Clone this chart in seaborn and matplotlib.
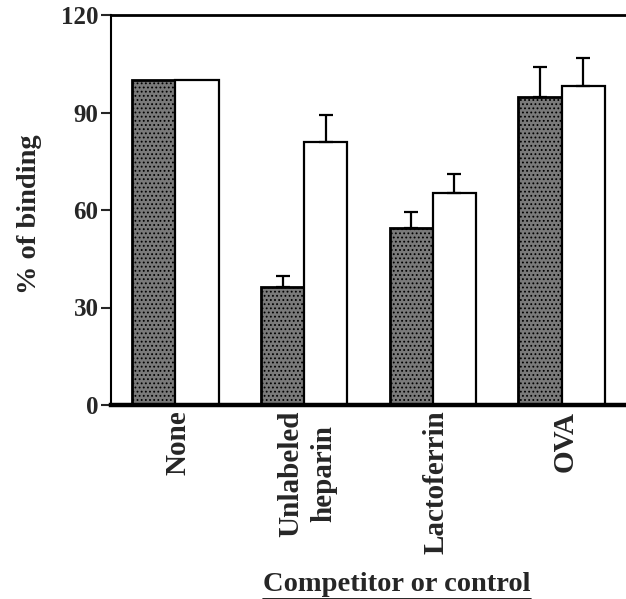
import matplotlib
matplotlib.use("Agg")
import matplotlib.pyplot as plt
import seaborn as sns
import pandas as pd
import numpy as np
from matplotlib.lines import Line2D

categories = ["None", "Unlabeled\nheparin", "Lactoferrin", "OVA"]
series_names = ["Grey", "White"]
grey_values = [100, 36.4, 54.4, 94.9]
white_values = [100, 81.0, 65.1, 98.2]
grey_errors = [0, 3.3, 5.1, 9.2]
white_errors = [0, 8.2, 6.0, 8.7]
y_ticks = [0, 30, 60, 90, 120]

sns.set_style("white")
plt.rcParams["font.family"] = ["Liberation Serif", "DejaVu Serif"]
plt.rcParams["font.weight"] = "bold"
plt.rcParams["hatch.linewidth"] = 0.8

df = pd.DataFrame({
    "category": categories * 2,
    "series": [series_names[0]] * 4 + [series_names[1]] * 4,
    "value": grey_values + white_values,
})

fig = plt.figure(figsize=(6.26, 5.99), dpi=100)
ax = fig.add_axes([111 / 626, 1 - 405 / 599, 1 - 111 / 626, (405 - 15) / 599])

sns.barplot(data=df, x="category", y="value", hue="series", order=categories,
            hue_order=series_names, palette=["#7a7a7a", "white"], width=0.67,
            errorbar=None, legend=False, ax=ax, saturation=1)

patches = list(ax.patches)
n = len(categories)
for i, p in enumerate(patches[:2 * n]):
    if i < n:
        p.set_edgecolor("black")
        p.set_linewidth(2.0)
        p.set_hatch("....")
    else:
        p.set_edgecolor("black")
        p.set_linewidth(1.6)

errs = grey_errors + white_errors
vals = grey_values + white_values
for i, p in enumerate(patches[:2 * n]):
    if errs[i] > 0:
        xc = p.get_x() + p.get_width() / 2
        ax.errorbar([xc], [vals[i]], yerr=[[0], [errs[i]]], fmt="none",
                    ecolor="black", elinewidth=1.6, capsize=5, capthick=1.6, zorder=1)

ax.set_ylim(0, 120)
ax.set_xlim(-0.5, 3.5)
ax.set_yticks(y_ticks)
ax.set_yticklabels([str(t) for t in y_ticks], fontsize=18, fontweight="bold")
ax.tick_params(axis="y", direction="out", length=7, width=1.5, left=True, pad=2)
ax.tick_params(axis="x", length=0, pad=4)
for lbl in ax.get_xticklabels():
    lbl.set_rotation(90)
    lbl.set_fontsize(21)
    lbl.set_fontweight("bold")
    lbl.set_va("top")
    lbl.set_ha("center")
    lbl.set_multialignment("center")
    lbl.set_linespacing(1.3)

for s in ["left", "top", "bottom"]:
    ax.spines[s].set_visible(True)
    ax.spines[s].set_color("black")
ax.spines["right"].set_visible(False)
ax.spines["left"].set_linewidth(1.5)
ax.spines["top"].set_linewidth(2.0)
ax.spines["bottom"].set_linewidth(3.2)

ax.set_ylabel("% of binding", fontsize=20.5, fontweight="bold")
ax.yaxis.set_label_coords(-0.134, 0.49)
ax.set_xlabel("Competitor or control", fontsize=20.5, fontweight="bold")
ax.xaxis.set_label_coords(0.555, -0.46)
ax.xaxis.label.set_va("center")

fig.canvas.draw()
# nudge category labels slightly right to match the reference placement
from matplotlib.transforms import ScaledTranslation
for lbl in ax.get_xticklabels():
    lbl.set_transform(lbl.get_transform() + ScaledTranslation(3 / 100, 0, fig.dpi_scale_trans))

fig.canvas.draw()
r = fig.canvas.get_renderer()
bb = ax.xaxis.label.get_window_extent(r)
W, H = fig.get_size_inches() * fig.dpi
yline = (bb.y0 - 2) / H
fig.add_artist(Line2D([bb.x0 / W, bb.x1 / W], [yline, yline], color="black", lw=1.2,
                      transform=fig.transFigure))

fig.savefig("out.png", dpi=100)
